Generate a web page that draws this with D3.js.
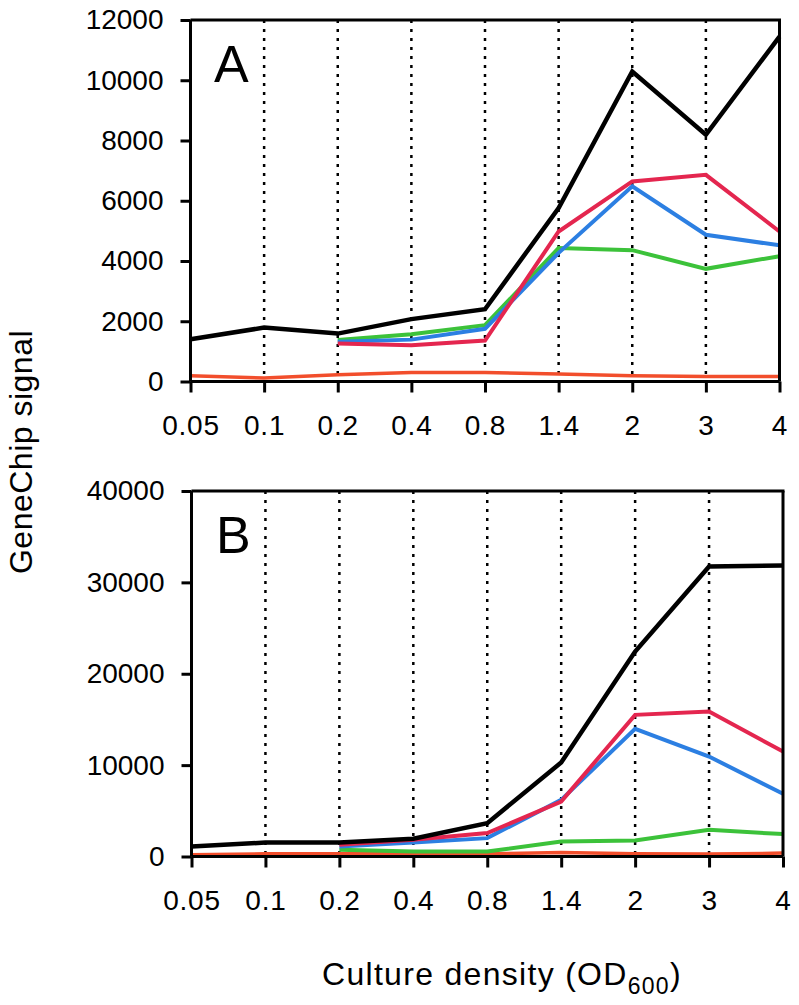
<!DOCTYPE html>
<html>
<head>
<meta charset="utf-8">
<script src="https://cdn.jsdelivr.net/npm/d3@7"></script>
<style>
  html, body { margin: 0; padding: 0; background: #fff; }
  svg { display: block; font-family: "Liberation Sans", Arial, sans-serif; }
</style>
</head>
<body>
<svg id="chart" width="799" height="1005"></svg>
<script>
// ---- Data ----
const densities = ["0.05", "0.1", "0.2", "0.4", "0.8", "1.4", "2", "3", "4"];

const seriesNames = ["orange", "green", "blue", "red", "black"];
const seriesColors = ["#f24e2c", "#3cc23a", "#2c7fe2", "#e4264f", "#000000"];
const seriesWidths = [3.5, 4, 4, 4, 4.5];

// Panel A values
const aOrange = [190, 115, 220, 300, 300, 245, 190, 165, 165];
const aGreen  = [null, null, 1380, 1570, 1870, 4430, 4360, 3740, 4160];
const aBlue   = [null, null, 1320, 1390, 1750, 4270, 6480, 4870, 4520];
const aRed    = [null, null, 1260, 1200, 1360, 4980, 6640, 6860, 4980];
const aBlack  = [1400, 1790, 1590, 2070, 2400, 5760, 10290, 8190, 11450];

// Panel B values
const bOrange = [190, 290, 290, 290, 290, 430, 290, 260, 370];
const bGreen  = [null, null, 730, 550, 550, 1640, 1750, 2920, 2450];
const bBlue   = [null, null, 1100, 1530, 2010, 6200, 13970, 10940, 6860];
const bRed    = [null, null, 1280, 1830, 2560, 6020, 15500, 15860, 11490];
const bBlack  = [1090, 1530, 1530, 1940, 3650, 10290, 22430, 31730, 31840];

const aTicks = [0, 2000, 4000, 6000, 8000, 10000, 12000];
const bTicks = [0, 10000, 20000, 30000, 40000];

const panels = [
  { label: "A", series: [aOrange, aGreen, aBlue, aRed, aBlack], max: 12000, ticks: aTicks,
    x0: 190.5, x1: 779.5, yTop: 20, yBottom: 381.5, labelX: 214, labelY: 82 },
  { label: "B", series: [bOrange, bGreen, bBlue, bRed, bBlack], max: 40000, ticks: bTicks,
    x0: 191.5, x1: 783, yTop: 491, yBottom: 856.5, labelX: 216, labelY: 553 }
];

const svg = d3.select("#chart");
const FS = 28;

panels.forEach(p => {
  const x = d3.scalePoint().domain(densities).range([p.x0, p.x1]).padding(0);
  const y = d3.scaleLinear().domain([0, p.max]).range([p.yBottom, p.yTop]);
  const g = svg.append("g");

  // dotted vertical grid lines
  g.selectAll("line.grid")
    .data(densities.slice(1, -1))
    .enter().append("line")
    .attr("class", "grid")
    .attr("x1", d => x(d)).attr("x2", d => x(d))
    .attr("y1", p.yTop).attr("y2", p.yBottom)
    .attr("stroke", "#000").attr("stroke-width", 2.5)
    .attr("stroke-dasharray", "3,6");

  // lines
  const line = d3.line()
    .defined(d => d.v !== null)
    .x(d => x(d.k)).y(d => y(d.v));
  p.series.forEach((vals, i) => {
    g.append("path")
      .datum(vals.map((v, j) => ({ k: densities[j], v: v })))
      .attr("d", line)
      .attr("fill", "none")
      .attr("stroke", seriesColors[i])
      .attr("stroke-width", seriesWidths[i])
      .attr("stroke-linejoin", "miter");
  });

  // box top/right
  g.append("line").attr("x1", p.x0).attr("x2", p.x1 + 1.5).attr("y1", p.yTop).attr("y2", p.yTop)
    .attr("stroke", "#000").attr("stroke-width", 3);
  g.append("line").attr("x1", p.x1).attr("x2", p.x1).attr("y1", p.yTop).attr("y2", p.yBottom)
    .attr("stroke", "#000").attr("stroke-width", 3);

  // y axis
  const yAxis = g.append("g").attr("transform", `translate(${p.x0},0)`)
    .call(d3.axisLeft(y).tickValues(p.ticks).tickFormat(d3.format("d")).tickSize(10).tickPadding(17));
  // x axis
  const xAxis = g.append("g").attr("transform", `translate(0,${p.yBottom})`)
    .call(d3.axisBottom(x).tickSize(11).tickPadding(23));

  [yAxis, xAxis].forEach(ax => {
    ax.select(".domain").attr("stroke", "#000").attr("stroke-width", 3);
    ax.selectAll(".tick line").attr("stroke", "#000").attr("stroke-width", 3);
    ax.selectAll(".tick text").attr("fill", "#000").style("font-size", FS + "px")
      .style("font-family", "'Liberation Sans', Arial, sans-serif");
  });
  xAxis.selectAll(".tick text").style("letter-spacing", "0.8px");
  yAxis.select(".domain").attr("d", `M0,${p.yTop}V${p.yBottom}`);
  xAxis.select(".domain").attr("d", `M${p.x0},0H${p.x1}`);

  // panel letter
  g.append("text").attr("x", p.labelX).attr("y", p.labelY)
    .style("font-size", "52px").attr("fill", "#000").text(p.label);
});

// axis titles
svg.append("text")
  .attr("transform", "translate(32,452) rotate(-90)")
  .attr("text-anchor", "middle")
  .style("font-size", "32px").style("letter-spacing", "0.5px").attr("fill", "#000")
  .text("GeneChip signal");

const xt = svg.append("text")
  .attr("x", 322).attr("y", 985)
  .style("font-size", "32px").style("letter-spacing", "1.3px").attr("fill", "#000");
xt.append("tspan").text("Culture density (OD");
xt.append("tspan").attr("dy", 9).style("font-size", "23px").text("600");
xt.append("tspan").attr("dy", -9).text(")");
</script>
</body>
</html>
